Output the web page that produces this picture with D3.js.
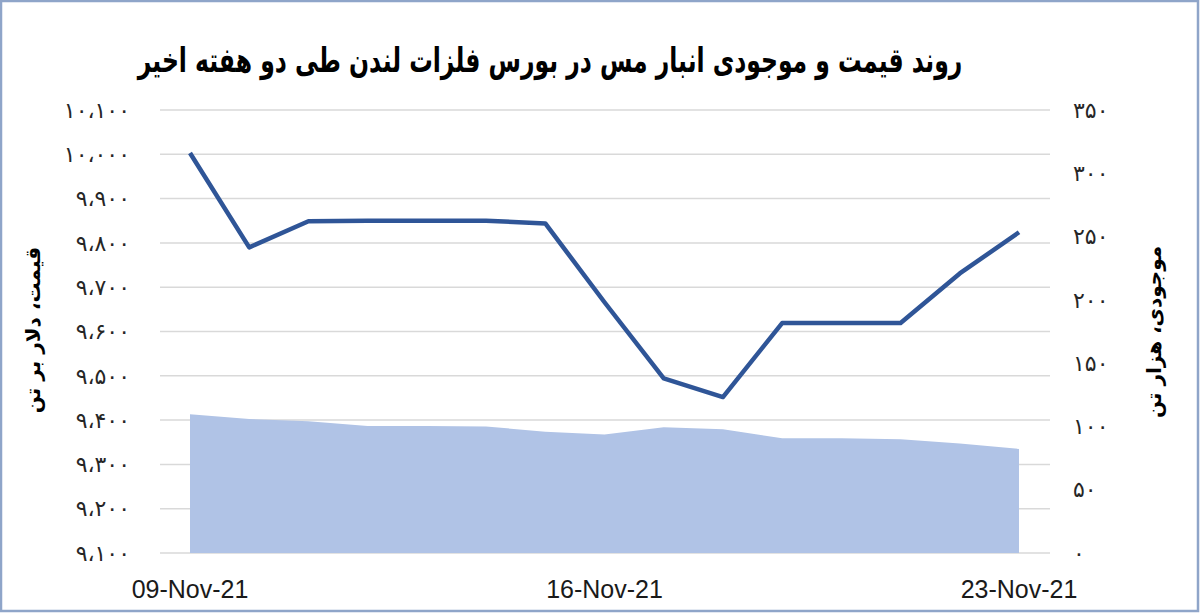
<!DOCTYPE html>
<html>
<head>
<meta charset="utf-8">
<script src="https://cdn.jsdelivr.net/npm/d3@7"></script>
<style>
  html, body { margin: 0; padding: 0; background: #fff; }
  svg { display: block; }
  .fa { font-family: "DejaVu Sans", "Noto Sans", sans-serif; }
</style>
</head>
<body>
<div class="chart"></div>
<script>
// days shown on the chart (every calendar day, weekends carry the previous value)
const dates = ['2021-11-09','2021-11-10','2021-11-11','2021-11-12','2021-11-13','2021-11-14','2021-11-15',
  '2021-11-16','2021-11-17','2021-11-18','2021-11-19','2021-11-20','2021-11-21','2021-11-22','2021-11-23']

// copper price, $/t (left axis)
const price = [10003, 9790, 9849, 9850, 9850, 9850, 9844, 9666, 9494, 9452, 9619, 9619, 9619, 9731, 9824]

// LME copper stocks, thousand t (right axis)
const stocks = [109.6, 105.8, 104, 100.3, 100.3, 100, 95.8, 93.7, 99.3, 97.7, 90.6, 90.6, 89.8, 86.6, 82.2]

const priceTicks = [9100, 9200, 9300, 9400, 9500, 9600, 9700, 9800, 9900, 10000, 10100]
const stockTicks = [0, 50, 100, 150, 200, 250, 300, 350]
const xTicks = ['2021-11-09', '2021-11-16', '2021-11-23']

const title = 'روند قیمت و موجودی انبار مس در بورس فلزات لندن طی دو هفته اخیر'
const leftTitle = 'قیمت، دلار بر تن'
const rightTitle = 'موجودی، هزار تن'

const width = 1200, height = 613

const parse = d3.timeParse('%Y-%m-%d')
const faDigits = '۰۱۲۳۴۵۶۷۸۹'
const toFa = s => s.replace(/[0-9]/g, c => faDigits[+c]).replace(/,/g, '،')
const fmt = d3.format(',')

let svg = d3.select('.chart')
.append('svg')
.attr('width', width)
.attr('height', height)

// outer frame
svg.append('rect')
.attr('x', 1).attr('y', 1)
.attr('width', width - 3).attr('height', height - 3)
.attr('fill', '#fff')
.attr('stroke', '#8fa5c9')
.attr('stroke-width', 2.5)

let x = d3.scaleTime()
.domain([parse(dates[0]), parse(dates[dates.length - 1])])
.range([190, 1019])

let yPrice = d3.scaleLinear()
.domain([9100, 10100])
.range([553, 110])

let yStock = d3.scaleLinear()
.domain([0, 350])
.range([553, 110])

// gridlines
svg.append('g')
.selectAll('line')
.data(priceTicks)
.enter()
.append('line')
.attr('x1', 160).attr('x2', 1050)
.attr('y1', d => yPrice(d)).attr('y2', d => yPrice(d))
.attr('stroke', '#d9d9d9')
.attr('stroke-width', 1.5)

const rows = dates.map((d, i) => ({ date: parse(d), price: price[i], stock: stocks[i] }))

// stocks area
let area = d3.area()
.x(d => x(d.date))
.y0(yStock(0))
.y1(d => yStock(d.stock))

svg.append('path')
.datum(rows)
.attr('d', area)
.attr('fill', '#b0c3e6')

// price line
let line = d3.line()
.x(d => x(d.date))
.y(d => yPrice(d.price))

svg.append('path')
.datum(rows)
.attr('d', line)
.attr('fill', 'none')
.attr('stroke', '#2f5597')
.attr('stroke-width', 4.5)
.attr('stroke-linejoin', 'round')

// left axis labels
svg.append('g')
.selectAll('text')
.data(priceTicks)
.enter()
.append('text')
.attr('class', 'fa')
.attr('x', 130)
.attr('y', d => yPrice(d))
.attr('dy', '0.35em')
.attr('text-anchor', 'end')
.attr('font-size', 22)
.attr('fill', '#262626')
.text(d => toFa(fmt(d)))

// right axis labels
svg.append('g')
.selectAll('text')
.data(stockTicks)
.enter()
.append('text')
.attr('class', 'fa')
.attr('x', 1073)
.attr('y', d => yStock(d))
.attr('dy', '0.35em')
.attr('text-anchor', 'start')
.attr('font-size', 22)
.attr('fill', '#262626')
.text(d => toFa(fmt(d)))

// x labels
svg.append('g')
.selectAll('text')
.data(xTicks)
.enter()
.append('text')
.attr('x', d => x(parse(d)))
.attr('y', 598)
.attr('text-anchor', 'middle')
.attr('font-family', '"Liberation Sans", Arial, sans-serif')
.attr('font-size', 25)
.attr('fill', '#1a1a1a')
.text(d => d3.timeFormat('%d-%b-%y')(parse(d)))

// axis titles
svg.append('text')
.attr('class', 'fa')
.attr('transform', 'translate(40,330) rotate(-90)')
.attr('text-anchor', 'middle')
.attr('font-size', 20)
.attr('font-weight', 'bold')
.attr('direction', 'rtl')
.text(leftTitle)

svg.append('text')
.attr('class', 'fa')
.attr('transform', 'translate(1161,332) rotate(-90)')
.attr('text-anchor', 'middle')
.attr('font-size', 20)
.attr('font-weight', 'bold')
.attr('direction', 'rtl')
.text(rightTitle)

// title, squeezed horizontally to the reference's narrow bold face
let titleText = svg.append('text')
.attr('class', 'fa')
.attr('text-anchor', 'middle')
.attr('font-size', 34)
.attr('font-weight', 'bold')
.attr('direction', 'rtl')
.text(title)

let tw = titleText.node().getComputedTextLength()
titleText.attr('transform', `translate(550,72) scale(${Math.min(1, 825 / tw)},1)`)
</script>
</body>
</html>
